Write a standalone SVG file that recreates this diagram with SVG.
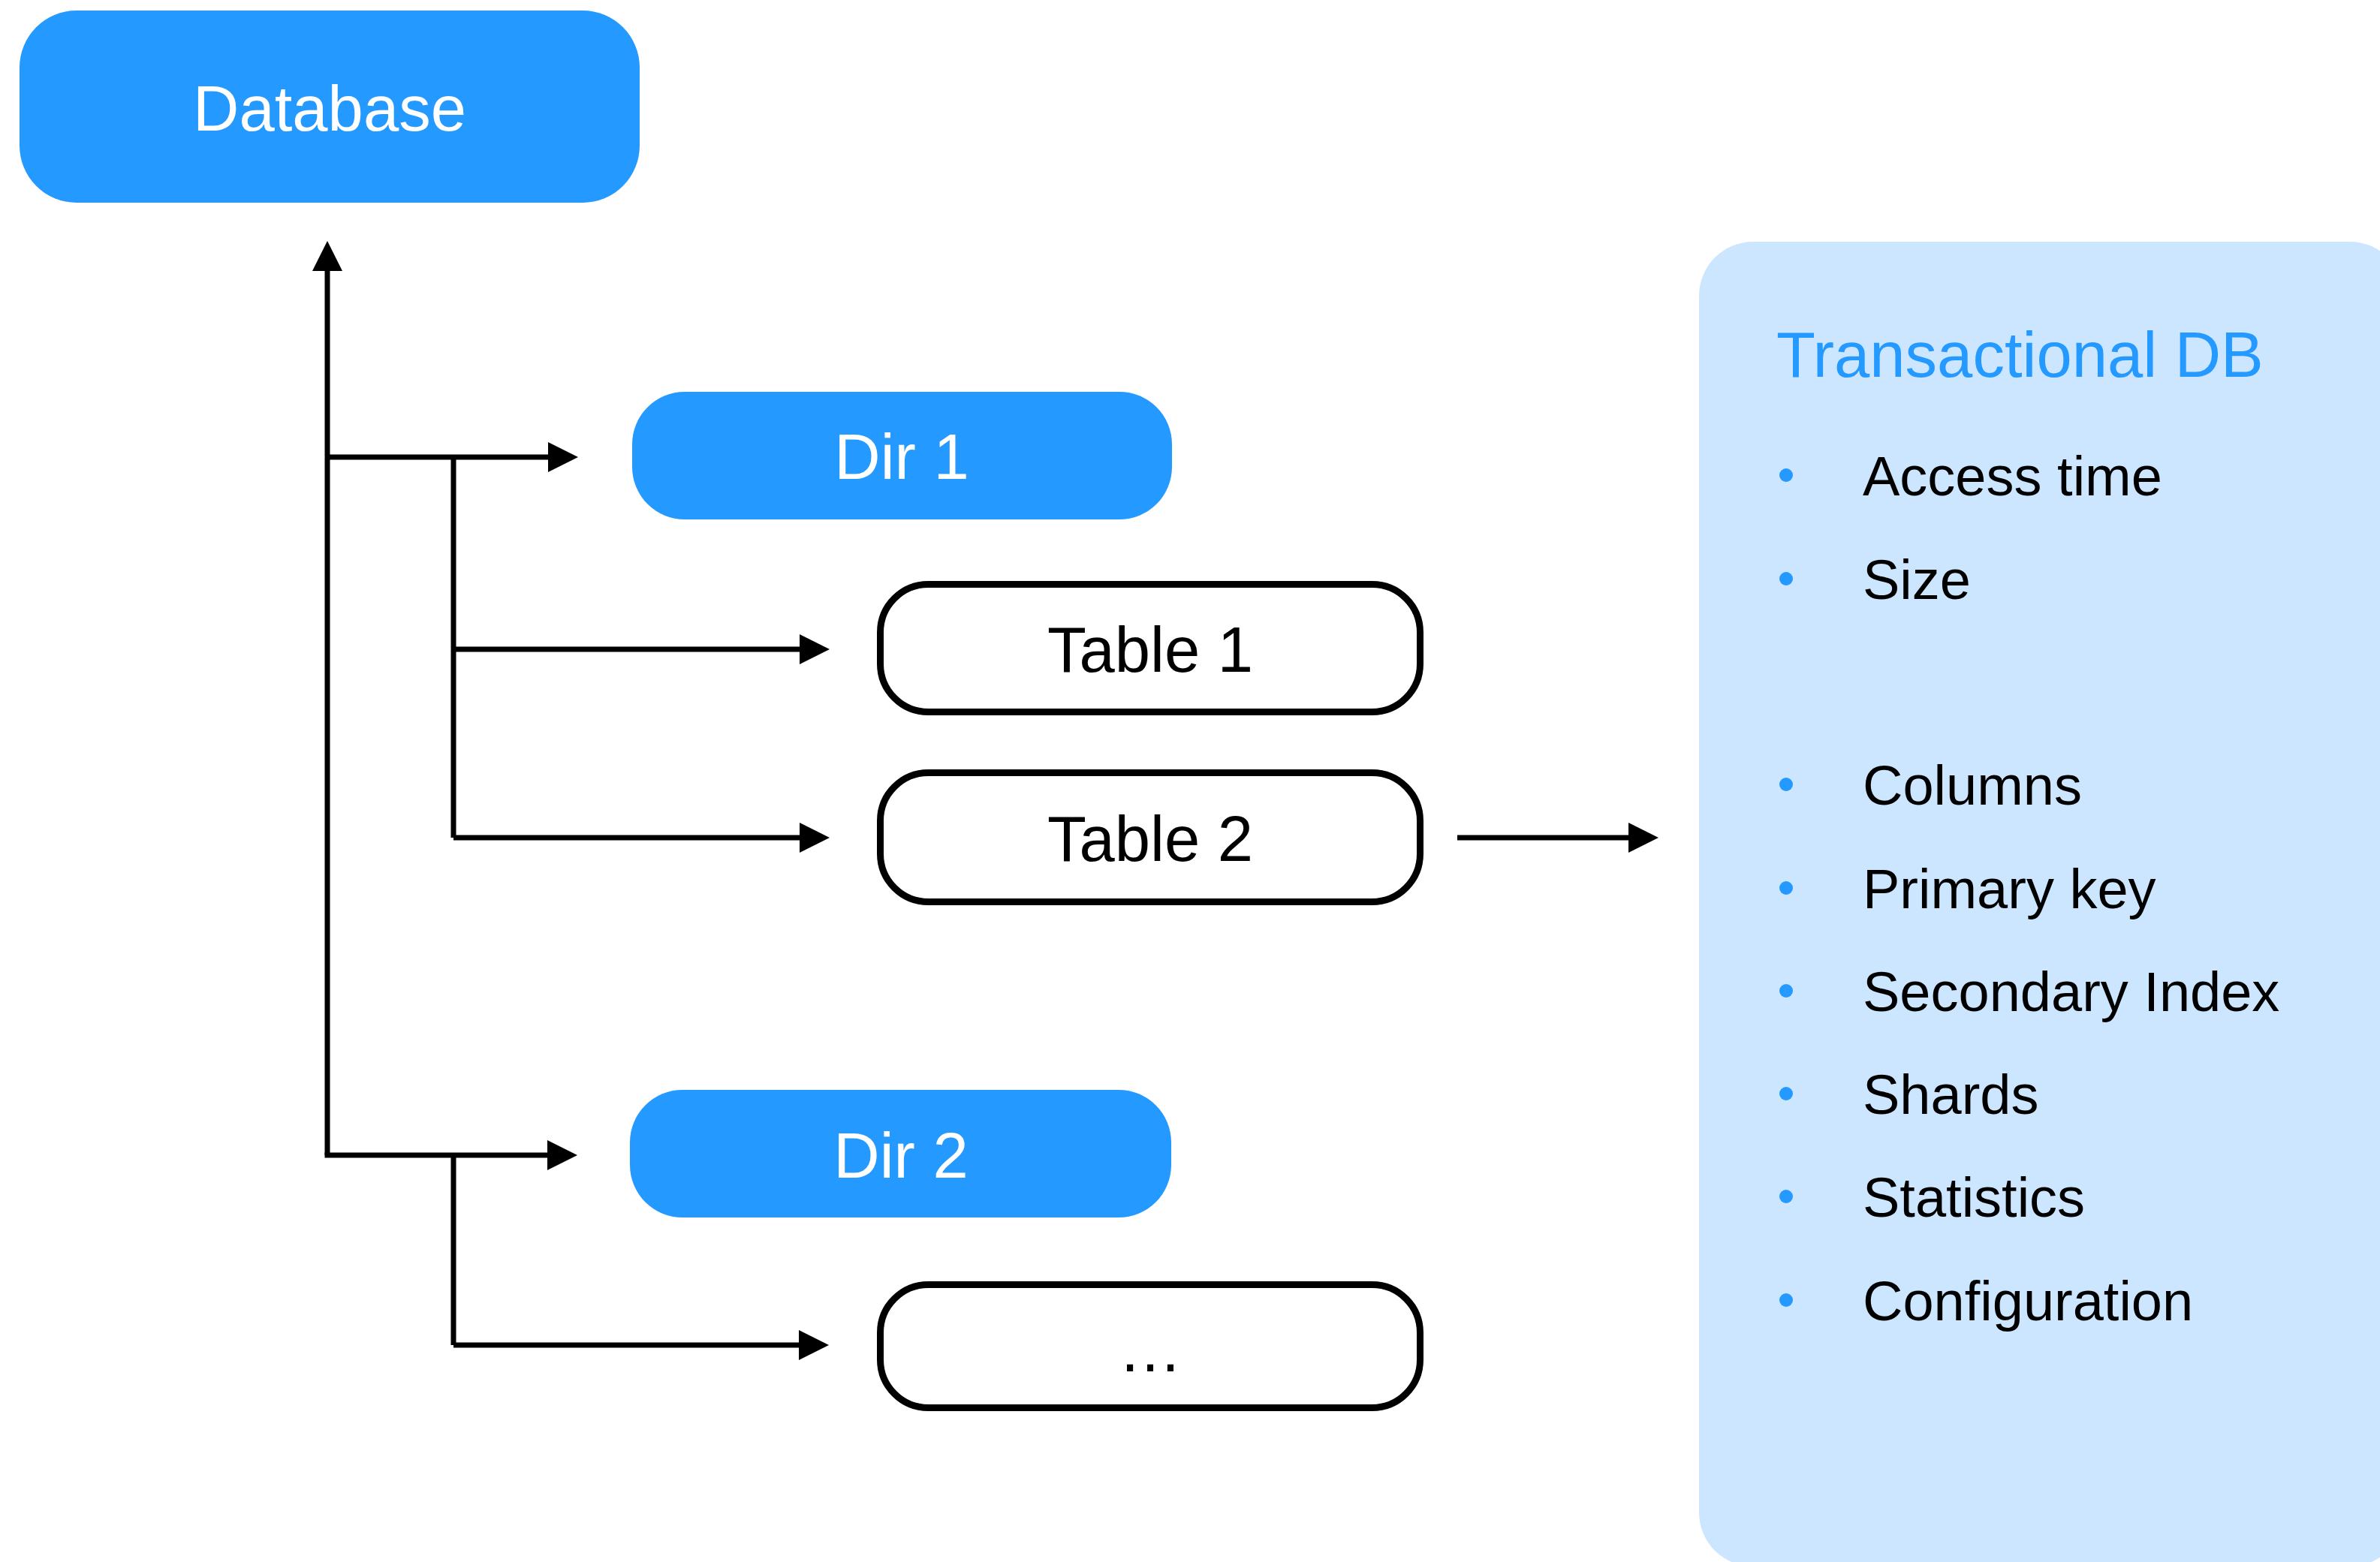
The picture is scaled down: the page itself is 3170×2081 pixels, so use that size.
<svg xmlns="http://www.w3.org/2000/svg" width="3170" height="2081" viewBox="0 0 3170 2081">
  <defs>
    <style>
      .blue-box { fill: #2499FF; }
      .table-box { fill: #FFFFFF; stroke: #000000; stroke-width: 9; }
      .label { font-family: "Liberation Sans", Arial, Helvetica, sans-serif; font-size: 85px; text-anchor: middle; }
      .label-white { fill: #FFFFFF; }
      .label-black { fill: #000000; }
      .panel { fill: #CCE6FF; }
      .panel-title { font-family: "Liberation Sans", Arial, Helvetica, sans-serif; font-size: 85px; fill: #2499FF; }
      .item { font-family: "Liberation Sans", Arial, Helvetica, sans-serif; font-size: 74px; fill: #000000; }
      .dot { fill: #2499FF; }
      .wire { fill: none; stroke: #000000; stroke-width: 7; }
    </style>
    <marker id="head" markerUnits="userSpaceOnUse" markerWidth="40" markerHeight="40" refX="0" refY="20" orient="auto">
      <path d="M0,0 L40,20 L0,40 Z" fill="#000000"/>
    </marker>
  </defs>

  <rect width="3170" height="2081" fill="#FFFFFF"/>

  <!-- Properties panel -->
  <g id="panel-transactional-db">
    <rect class="panel" x="2263" y="322" width="939" height="1765" rx="72" ry="72"/>
    <text class="panel-title" x="2366" y="502">Transactional DB</text>
    <circle class="dot" cx="2379" cy="633" r="9"/>
    <text class="item" x="2481" y="660">Access time</text>
    <circle class="dot" cx="2379" cy="771" r="9"/>
    <text class="item" x="2481" y="798">Size</text>
    <circle class="dot" cx="2379" cy="1045" r="9"/>
    <text class="item" x="2481" y="1072">Columns</text>
    <circle class="dot" cx="2379" cy="1183" r="9"/>
    <text class="item" x="2481" y="1210">Primary key</text>
    <circle class="dot" cx="2379" cy="1320" r="9"/>
    <text class="item" x="2481" y="1347">Secondary Index</text>
    <circle class="dot" cx="2379" cy="1457" r="9"/>
    <text class="item" x="2481" y="1484">Shards</text>
    <circle class="dot" cx="2379" cy="1594" r="9"/>
    <text class="item" x="2481" y="1621">Statistics</text>
    <circle class="dot" cx="2379" cy="1732" r="9"/>
    <text class="item" x="2481" y="1759">Configuration</text>
  </g>

  <!-- Connectors -->
  <g id="connectors">
    <!-- trunk up to Database -->
    <path class="wire" d="M436,1539 L436,361" marker-end="url(#head)"/>
    <!-- Dir 1 branch -->
    <path class="wire" d="M436,609 L730,609" marker-end="url(#head)"/>
    <path class="wire" d="M604,609 L604,1116"/>
    <path class="wire" d="M604,865 L1065,865" marker-end="url(#head)"/>
    <path class="wire" d="M604,1116 L1065,1116" marker-end="url(#head)"/>
    <!-- Dir 2 branch -->
    <path class="wire" d="M432.5,1539 L729,1539" marker-end="url(#head)"/>
    <path class="wire" d="M604,1539 L604,1792"/>
    <path class="wire" d="M604,1792 L1064,1792" marker-end="url(#head)"/>
    <!-- Table 2 to panel -->
    <path class="wire" d="M1941,1116 L2169,1116" marker-end="url(#head)"/>
  </g>

  <!-- Nodes -->
  <g id="node-database">
    <rect class="blue-box" x="26" y="14" width="826" height="256" rx="76" ry="76"/>
    <text class="label label-white" x="439" y="174">Database</text>
  </g>

  <g id="node-dir1">
    <rect class="blue-box" x="842" y="522" width="719" height="170" rx="70" ry="70"/>
    <text class="label label-white" x="1201" y="638">Dir 1</text>
  </g>

  <g id="node-table1">
    <rect class="table-box" x="1172.5" y="778.5" width="719" height="170" rx="64" ry="64"/>
    <text class="label label-black" x="1532" y="895">Table 1</text>
  </g>

  <g id="node-table2">
    <rect class="table-box" x="1172.5" y="1029.5" width="719" height="172" rx="64" ry="64"/>
    <text class="label label-black" x="1532" y="1147">Table 2</text>
  </g>

  <g id="node-dir2">
    <rect class="blue-box" x="839" y="1452" width="721" height="170" rx="70" ry="70"/>
    <text class="label label-white" x="1200" y="1569">Dir 2</text>
  </g>

  <g id="node-more">
    <rect class="table-box" x="1172.5" y="1711.5" width="719" height="164" rx="64" ry="64"/>
    <text class="label label-black" x="1532" y="1827">…</text>
  </g>
</svg>
